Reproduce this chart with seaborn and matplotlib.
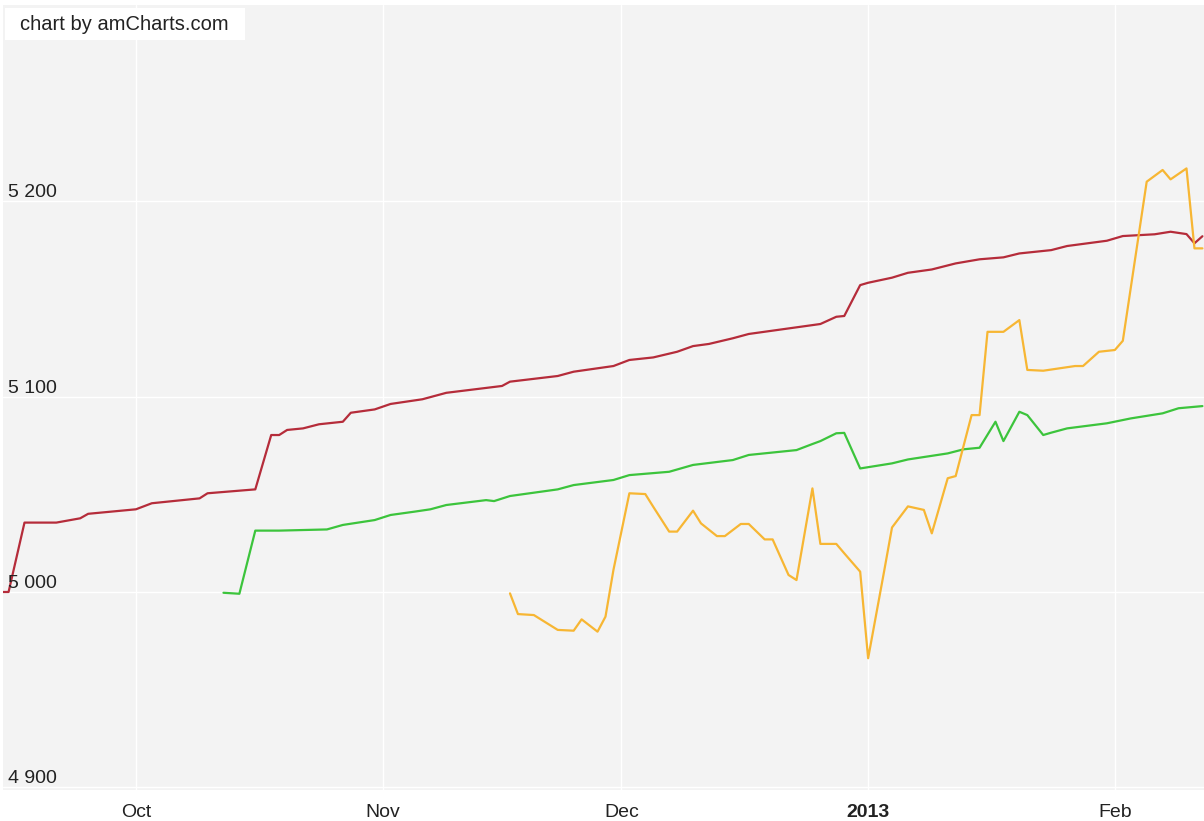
import matplotlib
matplotlib.use("Agg")
import matplotlib.pyplot as plt
import matplotlib.transforms as mtransforms
from matplotlib.patches import Rectangle
import seaborn as sns
import pandas as pd

# ---------------- data ----------------
red_dates = ["2012-09-14", "2012-09-15", "2012-09-17", "2012-09-21", "2012-09-24", "2012-09-25",
             "2012-10-01", "2012-10-03", "2012-10-09", "2012-10-10", "2012-10-16", "2012-10-18",
             "2012-10-19", "2012-10-20", "2012-10-22", "2012-10-24", "2012-10-27", "2012-10-28",
             "2012-10-31", "2012-11-02", "2012-11-06", "2012-11-09", "2012-11-16", "2012-11-17",
             "2012-11-23", "2012-11-25", "2012-11-30", "2012-12-02", "2012-12-05", "2012-12-08",
             "2012-12-10", "2012-12-12", "2012-12-15", "2012-12-17", "2012-12-23", "2012-12-26",
             "2012-12-28", "2012-12-29", "2012-12-31", "2013-01-01", "2013-01-04", "2013-01-06",
             "2013-01-09", "2013-01-12", "2013-01-15", "2013-01-18", "2013-01-20", "2013-01-24",
             "2013-01-26", "2013-01-31", "2013-02-02", "2013-02-06", "2013-02-08", "2013-02-10",
             "2013-02-11", "2013-02-12"]
red_values = [5000, 5000, 5035.5, 5035.5, 5037.7, 5040,
              5042.3, 5045.4, 5047.9, 5050.5, 5052.5, 5080.3,
              5080.3, 5082.9, 5083.7, 5085.8, 5087.1, 5091.7,
              5093.4, 5096.2, 5098.6, 5101.9, 5105.4, 5107.6,
              5110.5, 5112.7, 5115.6, 5118.7, 5120, 5122.9,
              5125.8, 5126.9, 5129.8, 5132, 5135.4, 5137.1,
              5140.8, 5141.2, 5157, 5158.2, 5160.8, 5163.3,
              5165, 5168.1, 5170.2, 5171.2, 5173.2, 5174.9,
              5177, 5179.7, 5182.1, 5183, 5184.3, 5183.1,
              5178.4, 5182]

green_dates = ["2012-10-12", "2012-10-14", "2012-10-16", "2012-10-19", "2012-10-25", "2012-10-27",
               "2012-10-31", "2012-11-02", "2012-11-05", "2012-11-07", "2012-11-09", "2012-11-14",
               "2012-11-15", "2012-11-17", "2012-11-23", "2012-11-25", "2012-11-30", "2012-12-02",
               "2012-12-07", "2012-12-10", "2012-12-15", "2012-12-17", "2012-12-23", "2012-12-25",
               "2012-12-26", "2012-12-28", "2012-12-29", "2012-12-31", "2013-01-04", "2013-01-06",
               "2013-01-11", "2013-01-13", "2013-01-15", "2013-01-17", "2013-01-18", "2013-01-20",
               "2013-01-21", "2013-01-23", "2013-01-24", "2013-01-26", "2013-01-31", "2013-02-03",
               "2013-02-07", "2013-02-09", "2013-02-12"]
green_values = [4999.6, 4999.1, 5031.4, 5031.4, 5032, 5034.3,
                5036.8, 5039.4, 5041.1, 5042.3, 5044.5, 5047,
                5046.5, 5049.1, 5052.5, 5054.7, 5057.3, 5059.8,
                5061.5, 5065, 5067.5, 5070.1, 5072.6, 5075.7,
                5077.2, 5081.2, 5081.4, 5063.2, 5065.8, 5067.8,
                5070.9, 5073, 5073.8, 5087.1, 5077.2, 5092.2,
                5090.5, 5080.3, 5081.5, 5083.7, 5086.3, 5088.8,
                5091.4, 5094, 5095.1]

orange_dates = ["2012-11-17", "2012-11-18", "2012-11-20", "2012-11-23", "2012-11-25", "2012-11-26",
                "2012-11-28", "2012-11-29", "2012-11-30", "2012-12-02", "2012-12-04", "2012-12-05",
                "2012-12-07", "2012-12-08", "2012-12-10", "2012-12-11", "2012-12-13", "2012-12-14",
                "2012-12-16", "2012-12-17", "2012-12-19", "2012-12-20", "2012-12-22", "2012-12-23",
                "2012-12-25", "2012-12-26", "2012-12-28", "2012-12-29", "2012-12-31", "2013-01-01",
                "2013-01-03", "2013-01-04", "2013-01-06", "2013-01-08", "2013-01-09", "2013-01-11",
                "2013-01-12", "2013-01-14", "2013-01-15", "2013-01-16", "2013-01-18", "2013-01-20",
                "2013-01-21", "2013-01-23", "2013-01-27", "2013-01-28", "2013-01-30", "2013-02-01",
                "2013-02-02", "2013-02-05", "2013-02-07", "2013-02-08", "2013-02-10", "2013-02-11",
                "2013-02-12"]
orange_values = [4999.3, 4988.7, 4988.2, 4980.6, 4980.2, 4986,
                 4979.7, 4987.4, 5011.3, 5050.5, 5050.1, 5043.6,
                 5030.9, 5030.9, 5041.6, 5035.1, 5028.6, 5028.6,
                 5034.8, 5034.8, 5026.9, 5026.9, 5008.7, 5006.1,
                 5053, 5024.6, 5024.6, 5019.8, 5010.4, 4966.1,
                 5010.4, 5033, 5043.8, 5042, 5030, 5058.2,
                 5059.3, 5090.5, 5090.5, 5133.1, 5133.1, 5139.1,
                 5113.6, 5113.2, 5115.6, 5115.6, 5122.9, 5123.8,
                 5128.5, 5209.9, 5215.9, 5211.1, 5216.7, 5175.8,
                 5175.8]

series_names = ["red", "green", "orange"]
series_colors = ["#b52c3a", "#3cc43c", "#f7b633"]

x_tick_dates = ["2012-10-01", "2012-11-01", "2012-12-01", "2013-01-01", "2013-02-01"]
x_tick_labels = ["Oct", "Nov", "Dec", "2013", "Feb"]
y_tick_values = [4900, 5000, 5100, 5200]
y_tick_labels = ["4 900", "5 000", "5 100", "5 200"]

# ---------------- build table ----------------
frames = []
for name, d, v in zip(series_names, [red_dates, green_dates, orange_dates],
                      [red_values, green_values, orange_values]):
    frames.append(pd.DataFrame({"date": pd.to_datetime(d), "value": v, "series": name}))
df = pd.concat(frames, ignore_index=True)

# ---------------- plot ----------------
sns.set_theme(style="white")
plt.rcParams["font.family"] = ["Liberation Sans", "DejaVu Sans"]

W, H = 1204, 821
fig = plt.figure(figsize=(W / 100, H / 100), dpi=100)
fig.patch.set_facecolor("white")
left_px, right_px, top_px, bottom_px = 3, 1204, 5, 790
ax = fig.add_axes([left_px / W, 1 - bottom_px / H, (right_px - left_px) / W, (bottom_px - top_px) / H])
ax.set_facecolor("#f3f3f3")

sns.lineplot(data=df, x="date", y="value", hue="series", hue_order=series_names,
             palette=dict(zip(series_names, series_colors)), linewidth=1.6,
             estimator=None, sort=True, legend=False, ax=ax)

ax.set_xlim(pd.Timestamp("2012-10-01") - pd.Timedelta(days=16.7),
            pd.Timestamp("2012-10-01") + pd.Timedelta(days=134.2))
ax.set_ylim(4898.7, 5300.3)

ax.set_xticks(pd.to_datetime(x_tick_dates))
ax.set_xticklabels(x_tick_labels)
ax.set_yticks(y_tick_values)
ax.set_yticklabels([])
ax.tick_params(axis="both", length=0)
ax.tick_params(axis="x", pad=10, labelsize=14, labelcolor="#222222")
for lbl in ax.get_xticklabels():
    if lbl.get_text() == "2013":
        lbl.set_fontweight("bold")

ax.grid(True, color="white", linewidth=1.0)
ax.set_axisbelow(True)
for s in ax.spines.values():
    s.set_visible(False)
ax.set_xlabel("")
ax.set_ylabel("")

# y tick labels inside the plot, just above their gridlines
trans = mtransforms.blended_transform_factory(ax.transAxes, ax.transData)
for val, lab in zip(y_tick_values, y_tick_labels):
    ax.text(0, val, lab, transform=mtransforms.offset_copy(trans, fig=fig, x=5, y=0, units="dots"),
            ha="left", va="bottom", fontsize=14, color="#222222")

# credit box
fig.patches.append(Rectangle((5 / W, 1 - 40 / H), 240 / W, 32 / H, transform=fig.transFigure,
                             facecolor="white", edgecolor="none", zorder=5))
fig.text(20 / W, 1 - 24 / H, "chart by amCharts.com", ha="left", va="center", fontsize=14.5,
         color="#222222", zorder=6)

fig.savefig("out.png", dpi=100, facecolor="white")
